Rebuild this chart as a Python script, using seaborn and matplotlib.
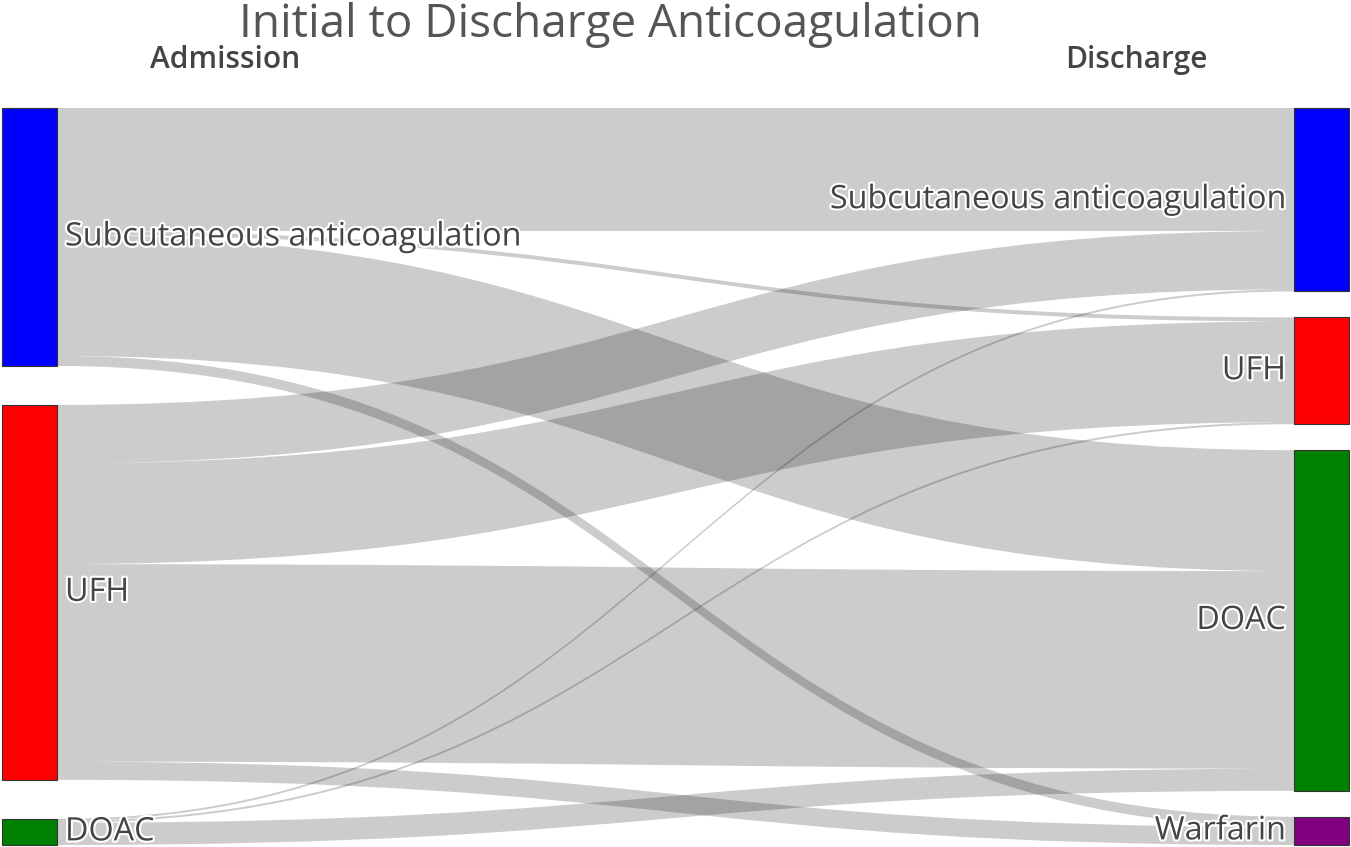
import matplotlib
matplotlib.use("Agg")
import matplotlib.pyplot as plt
import seaborn as sns
import numpy as np
import pandas as pd
from matplotlib.path import Path
from matplotlib.patches import PathPatch, Rectangle
import matplotlib.patheffects as pe

# ---------------- data ----------------
title = "Initial to Discharge Anticoagulation"
left_header = "Admission"
right_header = "Discharge"
left_nodes = ["Subcutaneous anticoagulation", "UFH", "DOAC"]
right_nodes = ["Subcutaneous anticoagulation", "UFH", "DOAC", "Warfarin"]
left_colors = ["#0000ff", "#ff0000", "#008000"]
right_colors = ["#0000ff", "#ff0000", "#008000", "#800080"]
link_source = [0, 0, 0, 0, 1, 1, 1, 1, 2, 2, 2]
link_target = [0, 1, 2, 3, 0, 1, 2, 3, 0, 1, 2]
link_value = [61, 2, 60, 5, 29, 50, 98, 9, 1, 1, 11]

links = pd.DataFrame({"source": link_source, "target": link_target, "value": link_value})

# ---------------- style ----------------
sns.set_theme(style="white")
plt.rcParams["font.family"] = ["Open Sans", "DejaVu Sans"]
TEXT = "#444444"

W, H = 1351, 847
TOP, BOTTOM = 108, 845
XL0, XL1 = 2, 57
XR0, XR1 = 1294, 1349
PAD = 26

fig = plt.figure(figsize=(W / 100, H / 100), dpi=100)
ax = fig.add_axes([0, 0, 1, 1])
ax.set_xlim(0, W)
ax.set_ylim(H, 0)
ax.axis("off")

# ---------------- layout ----------------
left_tot = links.groupby("source")["value"].sum().reindex(range(len(left_nodes))).fillna(0).values
right_tot = links.groupby("target")["value"].sum().reindex(range(len(right_nodes))).fillna(0).values
span = BOTTOM - TOP
ky = min((span - (len(left_tot) - 1) * PAD) / left_tot.sum(),
         (span - (len(right_tot) - 1) * PAD) / right_tot.sum())


def column_positions(tot):
    gap = (span - tot.sum() * ky) / (len(tot) - 1)
    tops = []
    y = TOP
    for v in tot:
        tops.append(y)
        y += v * ky + gap
    return np.array(tops)


left_top = column_positions(left_tot)
right_top = column_positions(right_tot)

# link offsets
src_off = left_top.copy()
tgt_off = right_top.copy()
link_geo = {}
for i, r in links.sort_values(["source", "target"]).iterrows():
    h = r["value"] * ky
    s0 = src_off[r["source"]]
    src_off[r["source"]] += h
    link_geo[i] = [s0, s0 + h]
for i, r in links.sort_values(["target", "source"]).iterrows():
    h = r["value"] * ky
    t0 = tgt_off[r["target"]]
    tgt_off[r["target"]] += h
    link_geo[i] += [t0, t0 + h]

xm = (XL1 + XR0) / 2
for i, (s0, s1, t0, t1) in link_geo.items():
    verts = [(XL1, s0), (xm, s0), (xm, t0), (XR0, t0),
             (XR0, t1), (xm, t1), (xm, s1), (XL1, s1), (XL1, s0)]
    codes = [Path.MOVETO, Path.CURVE4, Path.CURVE4, Path.CURVE4,
             Path.LINETO, Path.CURVE4, Path.CURVE4, Path.CURVE4, Path.CLOSEPOLY]
    ax.add_patch(PathPatch(Path(verts, codes), facecolor=(0, 0, 0, 0.2),
                           edgecolor="none", lw=0))

halo = [pe.withStroke(linewidth=3, foreground="white")]
LABEL_FS = 23.3

for name, col, t, v in zip(left_nodes, left_colors, left_top, left_tot):
    ax.add_patch(Rectangle((XL0, t), XL1 - XL0, v * ky, facecolor=col,
                           edgecolor="#333333", lw=0.8, zorder=3))
    ax.text(XL1 + 8, t + v * ky / 2, name, ha="left", va="center",
            fontsize=LABEL_FS, color=TEXT, path_effects=halo, zorder=4)

for name, col, t, v in zip(right_nodes, right_colors, right_top, right_tot):
    ax.add_patch(Rectangle((XR0, t), XR1 - XR0, v * ky, facecolor=col,
                           edgecolor="#333333", lw=0.8, zorder=3))
    ax.text(XR0 - 8, t + v * ky / 2, name, ha="right", va="center",
            fontsize=LABEL_FS, color=TEXT, path_effects=halo, zorder=4)

ax.text(610, 25, title, ha="center", va="center", fontsize=33, color="#555555")
ax.text(225, 60, left_header, ha="center", va="center", fontsize=21.5,
        fontweight="semibold", color=TEXT)
ax.text(1136, 60, right_header, ha="center", va="center", fontsize=21.5,
        fontweight="semibold", color=TEXT)

fig.savefig("out.png", dpi=100)
